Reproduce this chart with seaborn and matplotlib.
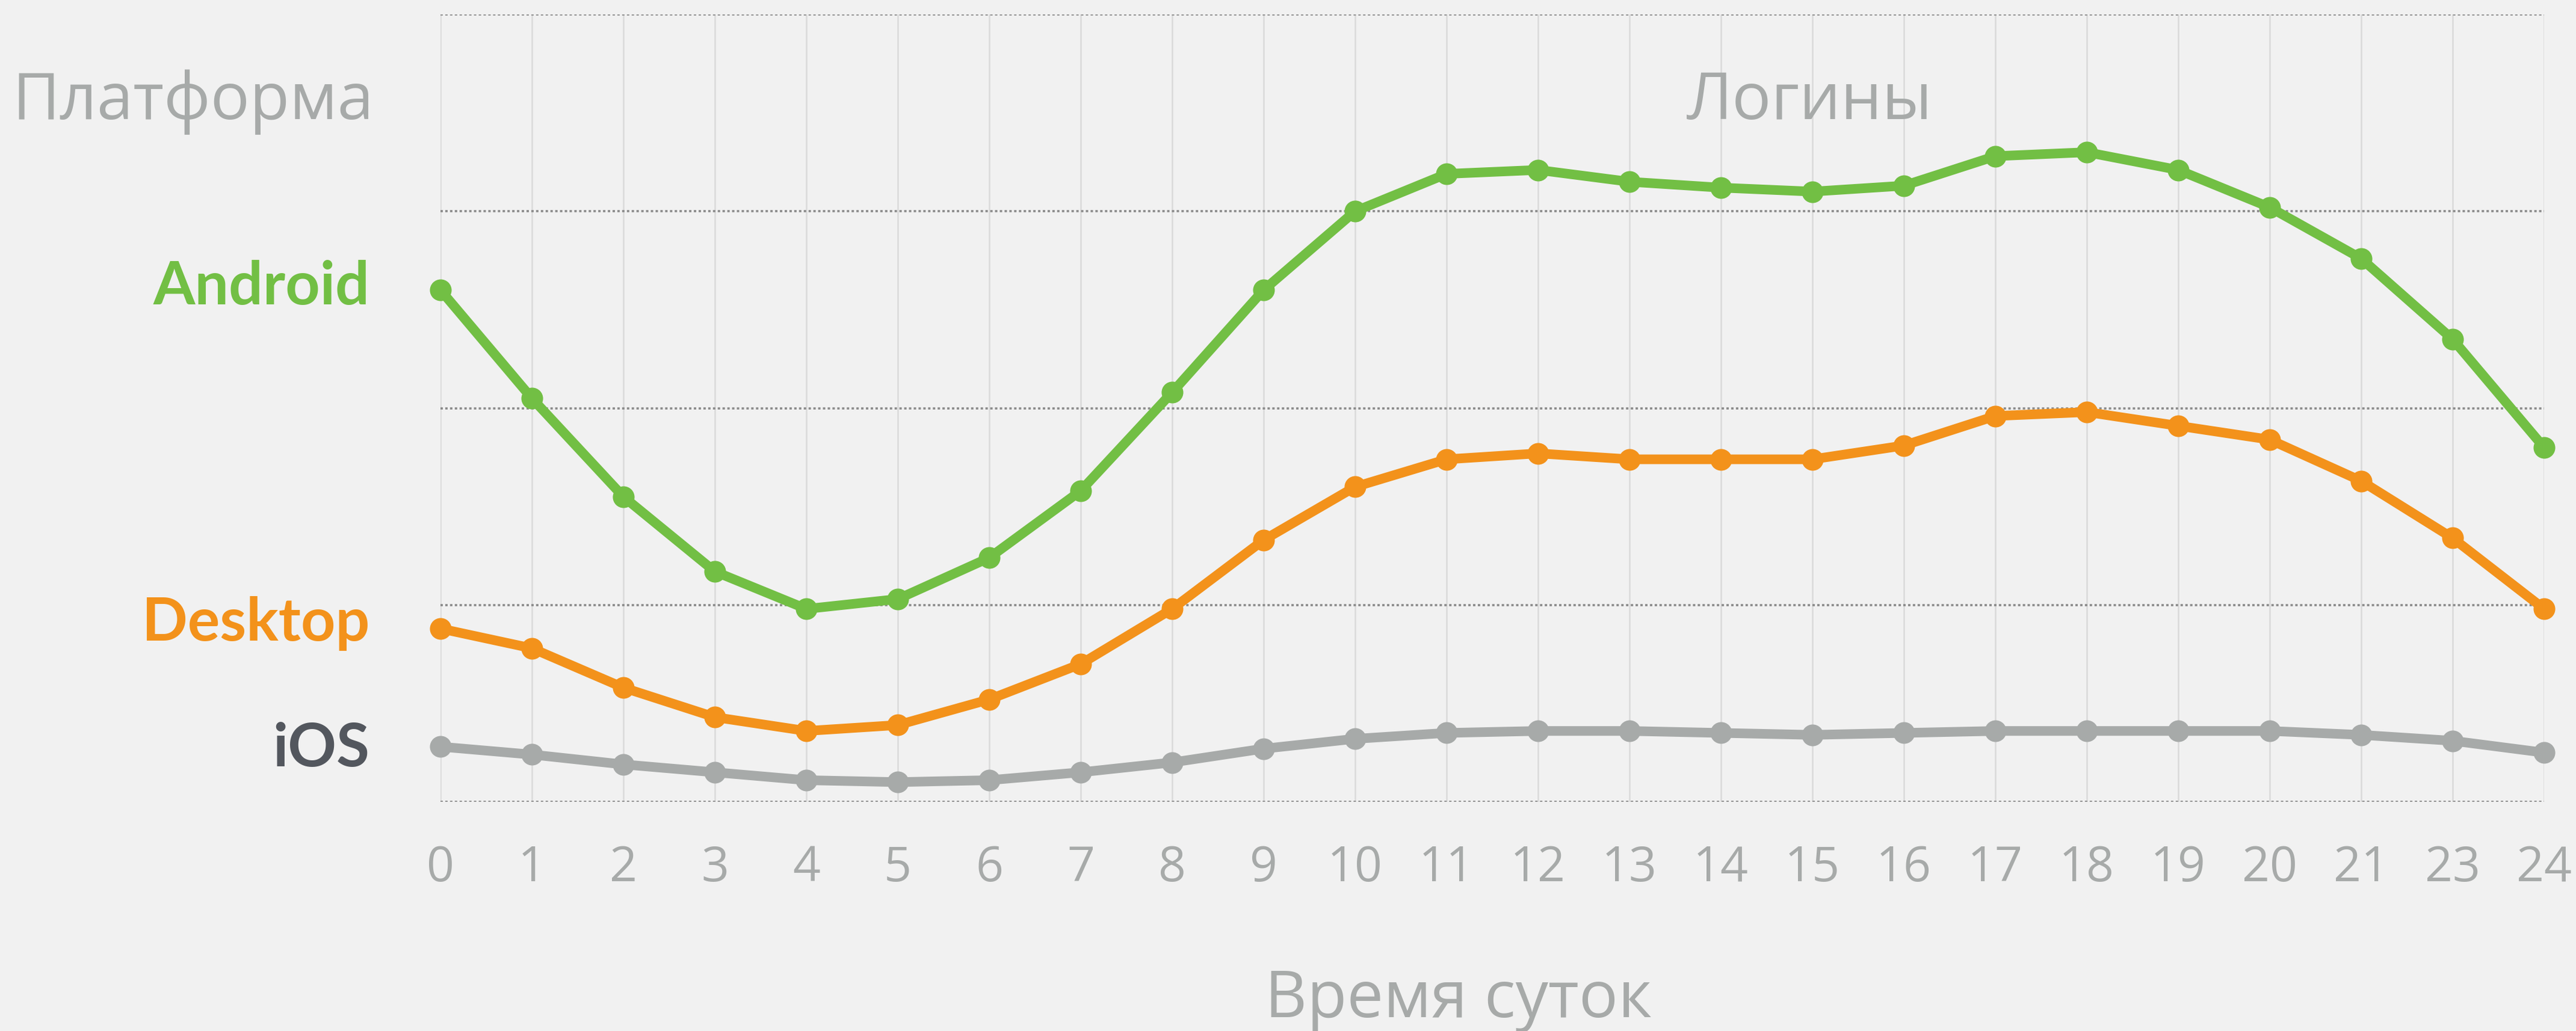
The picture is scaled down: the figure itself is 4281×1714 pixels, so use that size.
import matplotlib
matplotlib.use("Agg")
import matplotlib.pyplot as plt
import seaborn as sns
import pandas as pd

# Часы (22 в исходнике нет)
hours = ['0', '1', '2', '3', '4', '5', '6', '7', '8', '9', '10', '11',
         '12', '13', '14', '15', '16', '17', '18', '19', '20', '21', '23', '24']

# логины по платформам (в условных единицах, сетка 0..4)
android = [2.60, 2.05, 1.55, 1.17, 0.98, 1.03, 1.24, 1.58, 2.08, 2.60, 3.00, 3.19,
           3.21, 3.15, 3.12, 3.10, 3.13, 3.28, 3.30, 3.21, 3.02, 2.76, 2.35, 1.80]
desktop = [0.88, 0.78, 0.58, 0.43, 0.36, 0.39, 0.52, 0.70, 0.98, 1.33, 1.60, 1.74,
           1.77, 1.74, 1.74, 1.74, 1.81, 1.96, 1.98, 1.91, 1.84, 1.63, 1.34, 0.98]
ios = [0.28, 0.24, 0.19, 0.15, 0.11, 0.10, 0.11, 0.15, 0.20, 0.27, 0.32, 0.35,
       0.36, 0.36, 0.35, 0.34, 0.35, 0.36, 0.36, 0.36, 0.36, 0.34, 0.31, 0.25]

platforms = ['iOS', 'Desktop', 'Android']
line_colors = {'iOS': '#A7AAA9', 'Desktop': '#F3921B', 'Android': '#72BF44'}
label_colors = {'iOS': '#53575E', 'Desktop': '#F3921B', 'Android': '#72BF44'}

BG = '#F1F1F1'
GRAY = '#A7AAA9'

sns.set_theme(style="white")
plt.rcParams['font.family'] = ['Open Sans', 'DejaVu Sans']

# long format для seaborn
df = pd.DataFrame({
    'hour': hours * 3,
    'value': ios + desktop + android,
    'platform': ['iOS'] * len(hours) + ['Desktop'] * len(hours) + ['Android'] * len(hours),
})

fig = plt.figure(figsize=(42.81, 17.15), dpi=100, facecolor=BG)
ax = fig.add_axes([732 / 4281, 1 - 1334 / 1715, (4228 - 732) / 4281, (1334 - 25) / 1715])
ax.set_facecolor(BG)

sns.lineplot(data=df, x='hour', y='value', hue='platform', hue_order=platforms,
             palette=line_colors, sort=False, marker='o', markersize=26,
             markeredgewidth=0, linewidth=11.5, clip_on=False, legend=False, ax=ax)

ax.set_xlim(0, len(hours) - 1)
ax.set_ylim(0, 4)
ax.set_yticks([0, 1, 2, 3, 4])
ax.set_yticklabels([])
ax.set_xlabel('')
ax.set_ylabel('')
for s in ax.spines.values():
    s.set_visible(False)

# сетка: вертикальные сплошные светлые, горизонтальные пунктир
ax.xaxis.grid(True, color='#DADADA', linewidth=1.8, linestyle='-')
ax.yaxis.grid(True, color='#8A8A8A', linewidth=2.6, linestyle=(0, (1.1, 1.1)))
ax.set_axisbelow(True)
ax.tick_params(axis='x', length=0, pad=50, labelsize=58, labelcolor=GRAY)
ax.tick_params(axis='y', length=0)

# подписи серий слева
label_offsets = {'Android': -16.6, 'Desktop': -13.7, 'iOS': -23.0}
first_vals = {'Android': android[0], 'Desktop': desktop[0], 'iOS': ios[0]}
for p in platforms:
    ax.annotate(p, xy=(0, first_vals[p]), xytext=(-85, label_offsets[p]),
                textcoords='offset points', ha='right', va='baseline',
                fontsize=72, fontweight='bold', color=label_colors[p],
                family=['Lato', 'Open Sans', 'DejaVu Sans'],
                annotation_clip=False)

fig.text(20 / 4281, 1 - 198 / 1715, 'Платформа', ha='left', va='baseline',
         fontsize=78, color=GRAY)
fig.text(3007 / 4281, 1 - 198 / 1715, 'Логины', ha='center', va='baseline',
         fontsize=78, color=GRAY)
fig.text(2423 / 4281, 1 - 1691 / 1715, 'Время суток', ha='center', va='baseline',
         fontsize=78, color=GRAY)

fig.savefig('out.png', dpi=100, facecolor=BG)
